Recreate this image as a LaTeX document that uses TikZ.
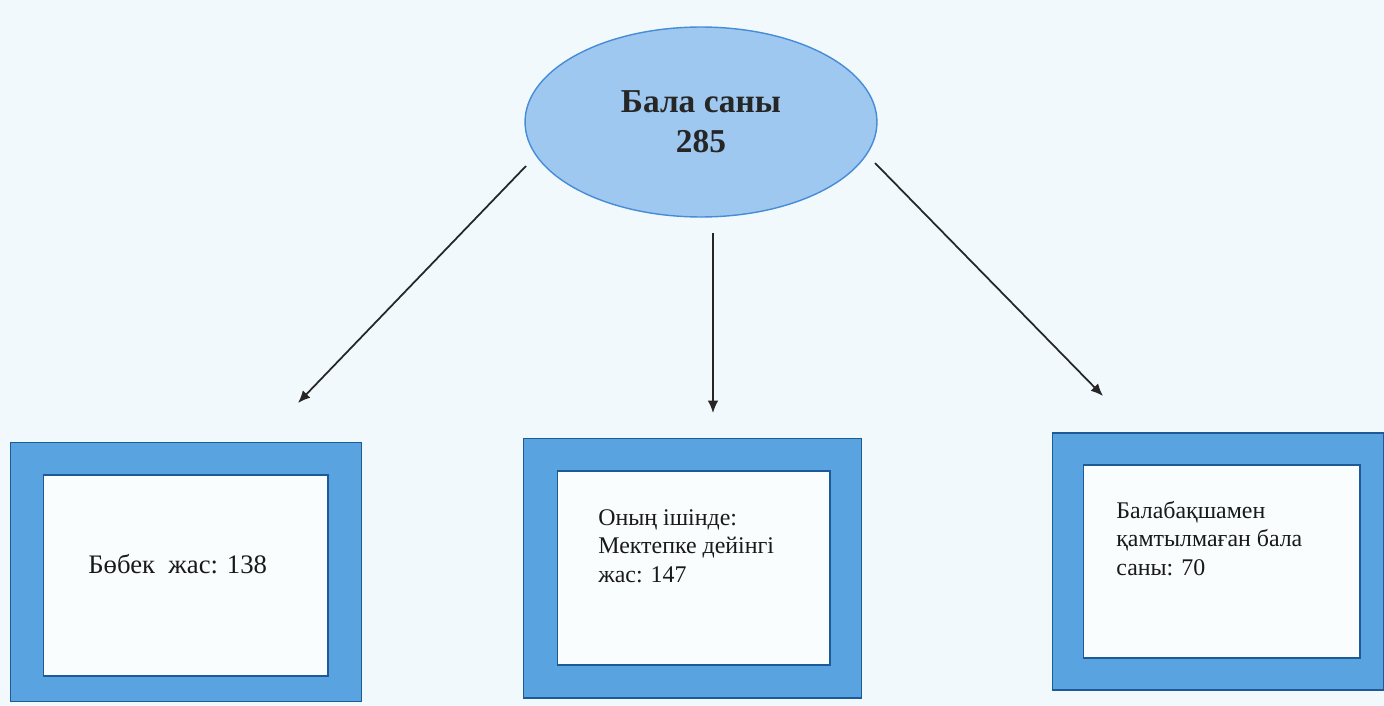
\documentclass[tikz,border=0pt]{standalone}
\usepackage{fontspec}
\setmainfont{Liberation Serif}
\usetikzlibrary{positioning, arrows.meta, shapes.geometric}

\definecolor{paper}{RGB}{242,249,252}
\definecolor{ellfill}{RGB}{158,200,240}
\definecolor{ellline}{RGB}{70,140,215}
\definecolor{boxfill}{RGB}{88,163,224}
\definecolor{boxline}{RGB}{30,90,150}
\definecolor{innerfill}{RGB}{250,253,254}

\begin{document}
\begin{tikzpicture}[
  x=0.02cm, y=-0.02cm,
  total/.style={ellipse, draw=ellline, fill=ellfill, line width=0.8pt,
    minimum width=7.04cm, minimum height=3.8cm, align=center,
    font=\fontsize{19}{22.5}\selectfont\bfseries, text=black!85},
  outerbox/.style={rectangle, draw=boxline, fill=boxfill, line width=0.6pt},
  innerbox/.style={rectangle, draw=boxline, fill=innerfill, line width=0.6pt},
  boxtext/.style={align=left, anchor=base west, inner sep=0pt,
    font=\fontsize{13.6}{16}\selectfont, text=black!90},
  arr/.style={draw=black!85, line width=1pt, -{Latex[length=7pt, width=6pt]}}
]

\fill[paper] (0,0) rectangle (1384,706);
\useasboundingbox (0,0) rectangle (1384,706);

\node[total] (sum) at (701,122) {Бала саны\\285};

% left box
\node[outerbox, minimum width=7.04cm, minimum height=5.18cm] (out1) at (186,572) {};
\node[innerbox, minimum width=5.7cm, minimum height=4.02cm] (in1) at (185.5,575.5) {};
\node[boxtext, font=\fontsize{15.2}{18}\selectfont] (t1) at (88,573) {Бөбек\ \ жас: 138};

% middle box (base anchor sits on the last line)
\node[outerbox, minimum width=6.78cm, minimum height=5.2cm] (out2) at (692.5,568) {};
\node[innerbox, minimum width=5.46cm, minimum height=3.88cm] (in2) at (693.5,568) {};
\node[boxtext] (t2) at (598,582) {Оның ішінде:\\Мектепке дейінгі\\жас: 147};

% right box
\node[outerbox, minimum width=6.64cm, minimum height=5.14cm] (out3) at (1218,561.5) {};
\node[innerbox, minimum width=5.54cm, minimum height=3.86cm] (in3) at (1221.5,561.5) {};
\node[boxtext] (t3) at (1116,575) {Балабақшамен\\қамтылмаған бала\\саны: 70};

\coordinate (s1) at (526,166);
\coordinate (e1) at (298,403);
\coordinate (s2) at (713,233);
\coordinate (e2) at (713,413);
\coordinate (s3) at (875,163);
\coordinate (e3) at (1103,396);

\draw[arr] (s1) -- (e1);
\draw[arr] (s2) -- (e2);
\draw[arr] (s3) -- (e3);

\end{tikzpicture}
\end{document}
